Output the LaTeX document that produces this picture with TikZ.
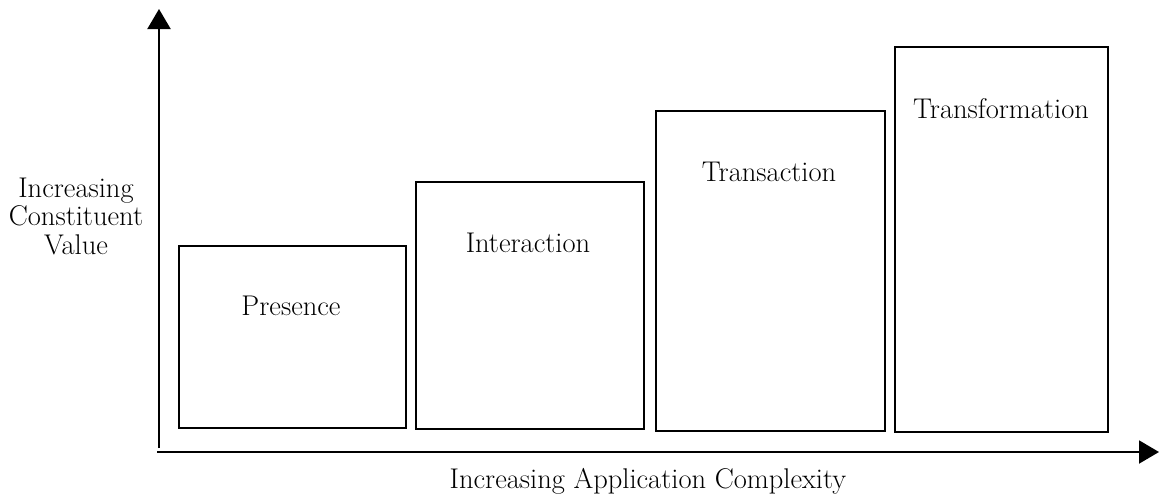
\documentclass[tikz,border=0pt]{standalone}
\usetikzlibrary{arrows.meta}
\begin{document}
\begin{tikzpicture}[x=1pt,y=-1pt,
  stage/.style={draw,line width=1.8pt,inner sep=0pt,anchor=north west},
  caption/.style={font=\fontsize{28.5}{28.5}\selectfont,inner sep=0pt},
  axis/.style={line width=2pt,-{Triangle[length=20pt,width=23pt]}}]
\useasboundingbox (0,0) rectangle (1160,493);
% axes
\coordinate (yo) at (159,448);
\coordinate (ytip) at (159,9);
\coordinate (xo) at (157,452);
\coordinate (xtip) at (1159,452);
\draw[axis] (yo) -- (ytip);
\draw[axis] (xo) -- (xtip);
% stages
\node[stage,minimum width=227pt,minimum height=182pt] (presence) at (178,245) {};
\node[stage,minimum width=228pt,minimum height=247pt] (interaction) at (415,181) {};
\node[stage,minimum width=229pt,minimum height=320pt] (transaction) at (655,110) {};
\node[stage,minimum width=213pt,minimum height=385pt] (transformation) at (894,46) {};
\node[caption] (tpresence) at (291,306) {Presence};
\node[caption] (tinteraction) at (528,243) {Interaction};
\node[caption] (ttransaction) at (769,172) {Transaction};
\node[caption] (ttransformation) at (1001,109) {Transformation};
% axis labels
\node[caption,align=center] (ylabel) at (76,216) {Increasing\\Constituent\\Value};
\node[caption] (xlabel) at (648,481) {Increasing Application Complexity};
\end{tikzpicture}
\end{document}
